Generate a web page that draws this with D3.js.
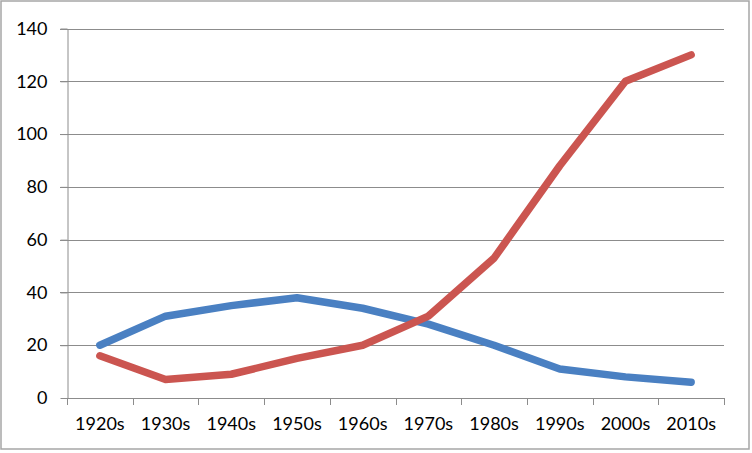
<!DOCTYPE html>
<html><head><meta charset="utf-8">
<script src="https://cdn.jsdelivr.net/npm/d3@7"></script>
<style>body{margin:0;background:#fff}svg{display:block}</style>
</head><body>
<script>
const categories = ["1920s","1930s","1940s","1950s","1960s","1970s","1980s","1990s","2000s","2010s"];
const blueSeries = [20,31,35,38,34,28,20,11,8,6];
const redSeries = [16,7,9,15,20,31,53,88,120,130];
const yTicks = [0,20,40,60,80,100,120,140];

(function(){
const W=752,H=453;
const svg=d3.select("body").append("svg").attr("width",W).attr("height",H);
svg.append("rect").attr("x",1).attr("y",1).attr("width",748).attr("height",448)
  .attr("fill","#fff").attr("stroke","#a6a6a6").attr("stroke-width",1.5);

const mLeft=67,mRight=724,mTop=28.5,mBottom=398;
const x=d3.scaleBand().domain(categories).range([mLeft,mRight]);
const y=d3.scaleLinear().domain([0,140]).range([mBottom,mTop]);
const font="Lato, 'Liberation Sans', Arial, sans-serif";

svg.append("g").selectAll("line").data(yTicks.filter(d=>d>0)).join("line")
  .attr("x1",mLeft-7).attr("x2",mRight).attr("y1",d=>Math.round(y(d))+0.5).attr("y2",d=>Math.round(y(d))+0.5)
  .attr("stroke","#8c8c8c").attr("stroke-width",1);

const ya=svg.append("g").attr("transform",`translate(${mLeft+0.5},0)`)
  .call(d3.axisLeft(y).tickValues(yTicks).tickSize(7).tickPadding(13).tickSizeOuter(0));
ya.select(".domain").attr("stroke","#8c8c8c");
ya.selectAll(".tick line").attr("stroke","#8c8c8c");
ya.selectAll("text").attr("font-family",font).attr("font-size",18).attr("fill","#000");

const xa=svg.append("g").attr("transform",`translate(0,${mBottom+0.5})`)
  .call(d3.axisBottom(x).tickSize(0).tickPadding(19));
xa.select(".domain").attr("stroke","#8c8c8c").attr("d",`M${mLeft},0H${mRight}`);
xa.selectAll("text").attr("font-family",font).attr("font-size",18).attr("fill","#000");
svg.append("g").selectAll("line").data(d3.range(categories.length+1)).join("line")
  .attr("x1",i=>Math.round(mLeft+i*x.step())+0.5).attr("x2",i=>Math.round(mLeft+i*x.step())+0.5)
  .attr("y1",mBottom).attr("y2",mBottom+7).attr("stroke","#8c8c8c");

const line=d3.line().x((d,i)=>x(categories[i])+x.bandwidth()/2).y(d=>y(d));
svg.append("path").datum(blueSeries).attr("d",line).attr("fill","none")
  .attr("stroke","#4a80c2").attr("stroke-width",7.5).attr("stroke-linecap","round").attr("stroke-linejoin","round");
svg.append("path").datum(redSeries).attr("d",line).attr("fill","none")
  .attr("stroke","#cb5550").attr("stroke-width",7.5).attr("stroke-linecap","round").attr("stroke-linejoin","round");
})();
</script>
</body></html>
